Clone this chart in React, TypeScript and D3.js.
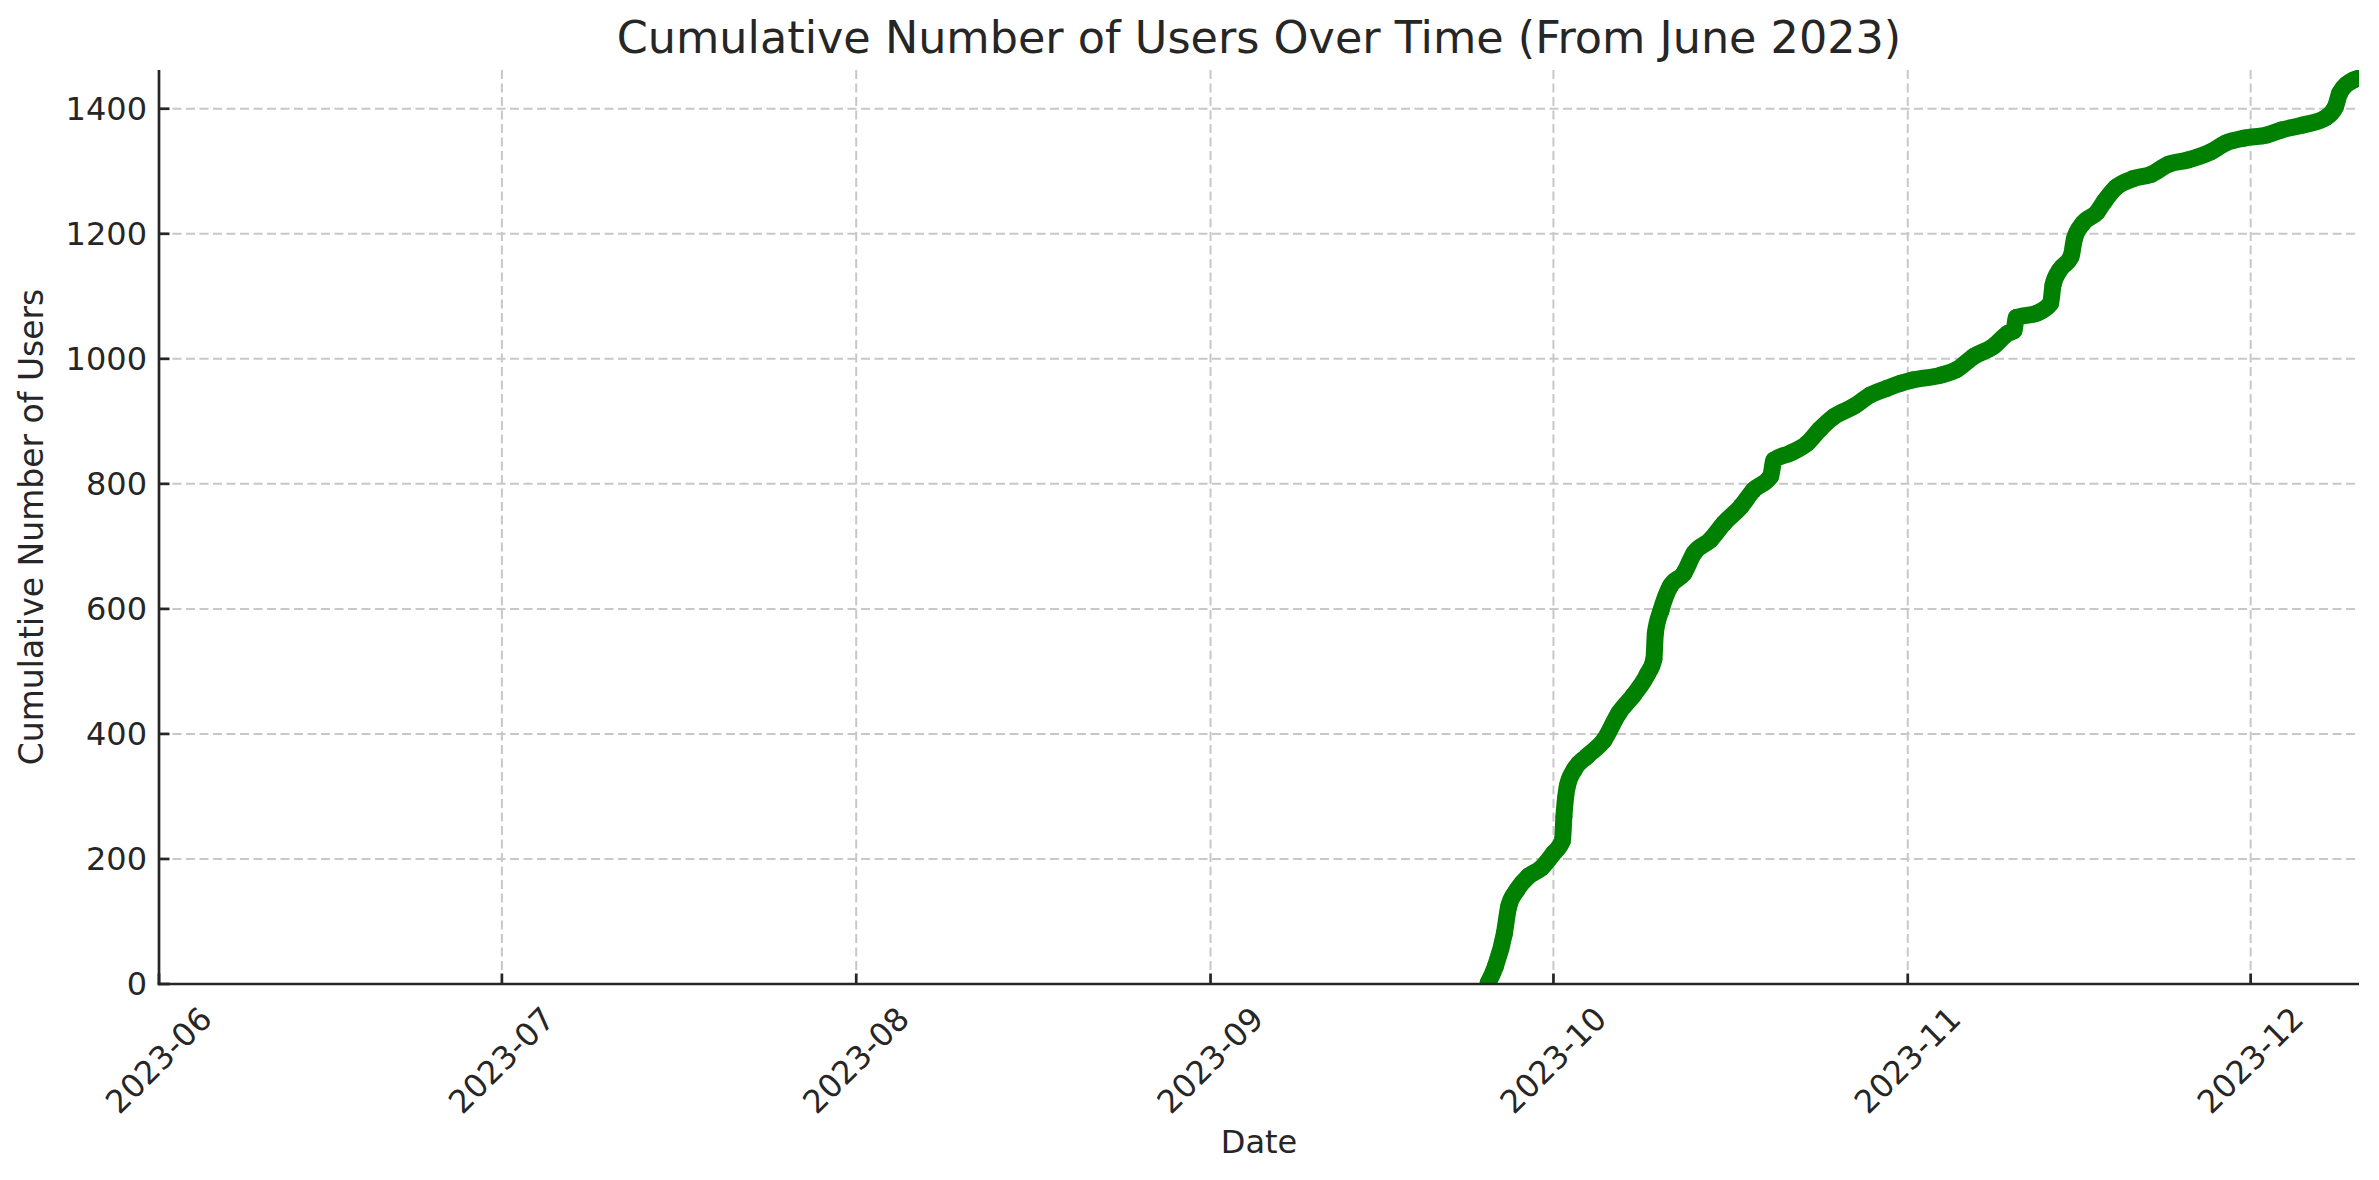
import React from "react";
import * as d3 from "d3";

const WIDTH = 2379;
const HEIGHT = 1180;

const title = "Cumulative Number of Users Over Time (From June 2023)";
const xLabel = "Date";
const yLabel = "Cumulative Number of Users";

const xStart = "2023-06-01T00:00:00Z";
const xEnd = "2023-12-10T11:30:00Z";
const monthTicks = ["2023-06", "2023-07", "2023-08", "2023-09", "2023-10", "2023-11", "2023-12"];
const yTicks = [0, 200, 400, 600, 800, 1000, 1200, 1400];
const yMax = 1462;

const dates = [
  "2023-09-25T07:00", "2023-09-25T22:00", "2023-09-26T17:00", "2023-09-27T02:00", "2023-09-27T19:00",
  "2023-09-28T19:00", "2023-09-29T22:00", "2023-10-01T00:00", "2023-10-01T19:00", "2023-10-01T22:00",
  "2023-10-02T05:00", "2023-10-02T19:00", "2023-10-03T22:00", "2023-10-05T10:00", "2023-10-06T17:00",
  "2023-10-08T00:00", "2023-10-09T05:00", "2023-10-09T19:00", "2023-10-09T22:00", "2023-10-10T10:00",
  "2023-10-11T05:00", "2023-10-12T10:00", "2023-10-13T07:00", "2023-10-14T17:00", "2023-10-15T22:00",
  "2023-10-17T10:00", "2023-10-18T12:00", "2023-10-20T00:00", "2023-10-20T07:00", "2023-10-21T17:00",
  "2023-10-23T05:00", "2023-10-24T07:00", "2023-10-25T12:00", "2023-10-27T07:00", "2023-10-28T17:00",
  "2023-10-30T05:00", "2023-10-31T10:00", "2023-11-01T10:00", "2023-11-03T22:00", "2023-11-05T05:00",
  "2023-11-06T19:00", "2023-11-08T12:00", "2023-11-09T19:00", "2023-11-10T07:00", "2023-11-10T12:00",
  "2023-11-12T07:00", "2023-11-13T12:00", "2023-11-13T17:00", "2023-11-14T07:00", "2023-11-15T07:00",
  "2023-11-15T14:00", "2023-11-16T07:00", "2023-11-17T14:00", "2023-11-18T05:00", "2023-11-19T05:00",
  "2023-11-20T17:00", "2023-11-22T07:00", "2023-11-23T19:00", "2023-11-25T12:00", "2023-11-27T12:00",
  "2023-11-28T19:00", "2023-11-30T10:00", "2023-12-02T10:00", "2023-12-03T17:00", "2023-12-05T14:00",
  "2023-12-07T12:00", "2023-12-08T10:00", "2023-12-08T19:00", "2023-12-10T00:00", "2023-12-10T11:30",
];

const users = [
  2, 28, 81, 124, 150,
  172, 185, 209, 230, 268,
  316, 342, 364, 390, 433,
  462, 495, 520, 561, 598,
  636, 657, 689, 710, 737,
  764, 790, 812, 838, 849,
  865, 887, 907, 924, 942,
  953, 961, 966, 974, 982,
  1004, 1020, 1041, 1045, 1066,
  1073, 1089, 1118, 1142, 1164,
  1192, 1216, 1235, 1252, 1274,
  1288, 1295, 1311, 1318, 1331,
  1345, 1353, 1358, 1366, 1374,
  1385, 1403, 1425, 1446, 1449,
];

const FONT = "DejaVu Sans, sans-serif";
const TEXT = "#262626";
const GREEN = "#008000";

export default function App() {
  const m = { left: 159, right: 2359, top: 70, bottom: 984 };
  const x = d3.scaleUtc().domain([new Date(xStart), new Date(xEnd)]).range([m.left, m.right]);
  const y = d3.scaleLinear().domain([0, yMax]).range([m.bottom, m.top]);
  const fmt = d3.utcFormat("%Y-%m");

  const pts = dates.map((d, i) => ({ t: new Date(d + ":00Z"), v: users[i] }));
  const line = d3
    .line<{ t: Date; v: number }>()
    .x((d) => x(d.t))
    .y((d) => y(d.v))
    .curve(d3.curveMonotoneX);

  const tickDates = monthTicks.map((s) => new Date(s + "-01T00:00:00Z"));
  const labelW = 133;
  const labelH = 37;

  return (
    <svg
      width={WIDTH}
      height={HEIGHT}
      style={{ position: "absolute", left: 0, top: 0, background: "#fff" }}
      fontFamily={FONT}
    >
      <defs>
        <clipPath id="plotClip">
          <rect x={m.left} y={m.top} width={m.right - m.left} height={m.bottom - m.top} />
        </clipPath>
      </defs>
      <rect x={0} y={0} width={WIDTH} height={HEIGHT} fill="#fff" />

      {/* grid */}
      <g stroke="#c8c8c8" strokeWidth={2} strokeDasharray="9,4.5">
        {yTicks.map((t) => (
          <line key={"gy" + t} x1={m.left} x2={m.right} y1={y(t)} y2={y(t)} />
        ))}
        {tickDates.map((d, i) => (
          <line key={"gx" + i} x1={x(d)} x2={x(d)} y1={m.top} y2={m.bottom} />
        ))}
      </g>

      {/* data */}
      <g clipPath="url(#plotClip)">
        <path
          d={line(pts) || ""}
          fill="none"
          stroke={GREEN}
          strokeWidth={17}
          strokeLinejoin="round"
          strokeLinecap="round"
        />
        {pts.map((p, i) => (
          <circle key={i} cx={x(p.t)} cy={y(p.v)} r={8.5} fill={GREEN} />
        ))}
      </g>

      {/* spines */}
      <line x1={m.left} x2={m.left} y1={m.top} y2={m.bottom + 1.3} stroke={TEXT} strokeWidth={2.7} />
      <line x1={m.left - 1.3} x2={m.right} y1={m.bottom} y2={m.bottom} stroke={TEXT} strokeWidth={2.7} />

      {/* y ticks */}
      {yTicks.map((t) => (
        <g key={"yt" + t}>
          <line x1={m.left} x2={m.left + 10.5} y1={y(t)} y2={y(t)} stroke={TEXT} strokeWidth={2.7} />
          <text
            x={m.left - 12}
            y={y(t)}
            textAnchor="end"
            dominantBaseline="central"
            fontSize={32}
            fill={TEXT}
          >
            {t}
          </text>
        </g>
      ))}

      {/* x ticks */}
      {tickDates.map((d, i) => {
        const tx = x(d);
        const ax = tx + 0.354 * labelW;
        const ay = m.bottom + 16 + 0.354 * labelH;
        return (
          <g key={"xt" + i}>
            <line x1={tx} x2={tx} y1={m.bottom} y2={m.bottom - 10.5} stroke={TEXT} strokeWidth={2.7} />
            <text
              x={ax}
              y={ay}
              textAnchor="end"
              dominantBaseline="central"
              fontSize={32}
              fill={TEXT}
              transform={`rotate(-45, ${ax}, ${ay})`}
            >
              {fmt(d)}
            </text>
          </g>
        );
      })}

      {/* labels */}
      <text x={(m.left + m.right) / 2} y={1153} textAnchor="middle" fontSize={32} fill={TEXT}>
        {xLabel}
      </text>
      <text
        x={43}
        y={(m.top + m.bottom) / 2}
        textAnchor="middle"
        fontSize={33}
        fill={TEXT}
        transform={`rotate(-90, 43, ${(m.top + m.bottom) / 2})`}
      >
        {yLabel}
      </text>
      <text x={(m.left + m.right) / 2} y={53} textAnchor="middle" fontSize={44.5} fill={TEXT}>
        {title}
      </text>
    </svg>
  );
}
